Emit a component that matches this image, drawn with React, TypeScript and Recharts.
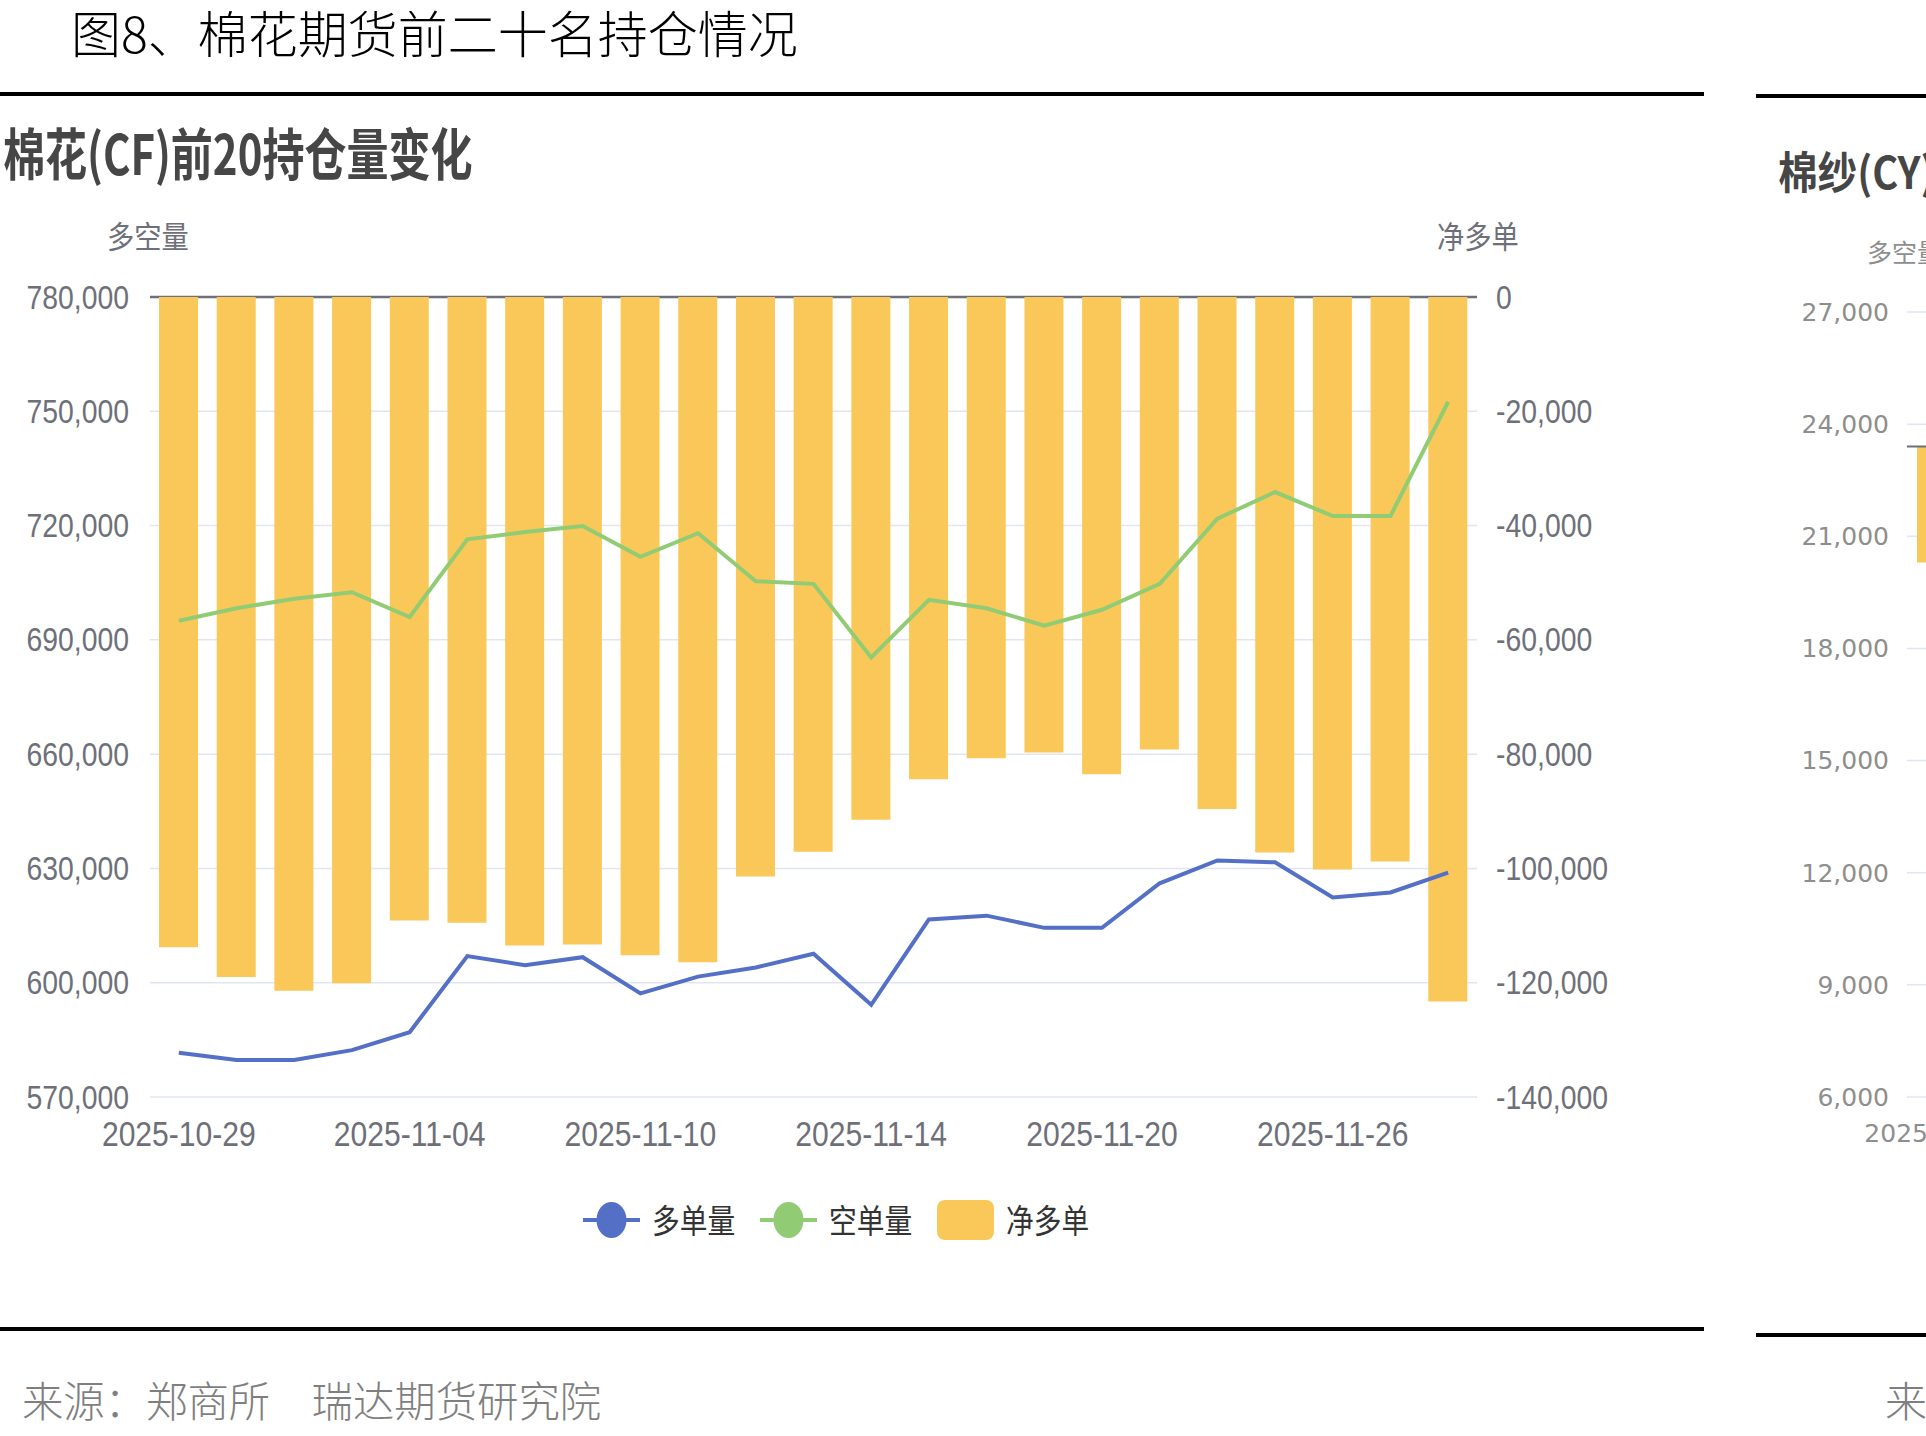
import React from 'react';
import { ComposedChart, Bar, Line, XAxis, YAxis, CartesianGrid, Legend, ReferenceLine } from 'recharts';

// trading days shown on the category axis
const dates = [
  '2025-10-29', '2025-10-30', '2025-10-31', '2025-11-03', '2025-11-04', '2025-11-05',
  '2025-11-06', '2025-11-07', '2025-11-10', '2025-11-11', '2025-11-12', '2025-11-13',
  '2025-11-14', '2025-11-17', '2025-11-18', '2025-11-19', '2025-11-20', '2025-11-21',
  '2025-11-24', '2025-11-25', '2025-11-26', '2025-11-27', '2025-11-28',
];

// 棉花(CF) top-20 positions
const longVol = [
  581600, 579700, 579700, 582300, 587000, 607000, 604600, 606700, 597200, 601600, 604000, 607600,
  594200, 616600, 617600, 614400, 614400, 626100, 632100, 631600, 622400, 623700, 628900,
];
const shortVol = [
  695000, 698300, 700800, 702500, 696000, 716400, 718300, 719900, 711800, 718000, 705400, 704700,
  685400, 700500, 698300, 693700, 697900, 704700, 721800, 728800, 722500, 722500, 752500,
];
const netLong = [
  -113800, -119000, -121400, -120100, -109100, -109500, -113500, -113300, -115200, -116400, -101400, -97100,
  -91500, -84400, -80700, -79700, -83500, -79200, -89600, -97200, -100200, -98800, -123300,
];

const leftTicks = [570000, 600000, 630000, 660000, 690000, 720000, 750000, 780000];
const rightTicks = [-140000, -120000, -100000, -80000, -60000, -40000, -20000, 0];

// 棉纱(CY) panel, only the first bar is inside the frame
const yarnRange: ([number, number] | null)[] = [
  [20300, 23400], null, null, null, null, null, null, null, null, null, null, null,
  null, null, null, null, null, null, null, null, null, null, null,
];
const yarnTicks = [6000, 9000, 12000, 15000, 18000, 21000, 24000, 27000];

const cfData = dates.map((d, i) => ({ date: d, long: longVol[i], short: shortVol[i], net: netLong[i] }));
const cyData = dates.map((d, i) => ({ date: d, range: yarnRange[i] }));

const BLUE = '#5470c6';
const GREEN = '#91cc75';
const YELLOW = '#fac858';
const AXIS_GREY = '#6E7079';
const GRID = '#E0E6F1';
const CJK = '"Noto Sans CJK SC", "Noto Sans", sans-serif';
const SANS = '"Liberation Sans", Arial, sans-serif';

const PLOT_TOP = 297;
const fmt = (v: number) => v.toLocaleString('en-US');

function Txt({ x, y, size, sx = 1, color, weight = 400, family = CJK, children }: any) {
  return (
    <div
      style={{
        position: 'absolute', left: x, top: y, fontSize: size, lineHeight: `${size}px`,
        color, fontWeight: weight, fontFamily: family, whiteSpace: 'nowrap',
        transform: `scaleX(${sx})`, transformOrigin: 'left top',
      }}
    >
      {children}
    </div>
  );
}

// axis label squeezed horizontally like the source image
function NarrowTick({ x, y, payload, textAnchor, size, dy, format }: any) {
  const label = format ? format(payload.value) : payload.value;
  return (
    <g transform={`translate(${x},${y})`}>
      <text transform="scale(0.86,1)" textAnchor={textAnchor} dy={dy} fontSize={size} fill={AXIS_GREY} fontFamily={SANS}>
        {label}
      </text>
    </g>
  );
}

const gridLine = (props: any) => {
  const { x1, x2, y1, y2, index } = props;
  const top = Math.abs(y1 - PLOT_TOP) < 1;
  return (
    <line key={`g-${index}`} x1={x1} x2={x2} y1={y1} y2={y2}
      stroke={top ? AXIS_GREY : GRID} strokeWidth={top ? 2.5 : 1.5} />
  );
};

const LEGEND_ORDER = ['多单量', '空单量', '净多单'];

function LegendContent({ payload }: any) {
  const items = [...(payload || [])].sort(
    (a: any, b: any) => LEGEND_ORDER.indexOf(a.value) - LEGEND_ORDER.indexOf(b.value),
  );
  return (
    <div style={{ display: 'flex', alignItems: 'center' }}>
      {items.map((it: any) => (
        <div key={it.value} style={{ display: 'flex', alignItems: 'center', marginRight: 26 }}>
          <svg width={57} height={40}>
            {it.type === 'rect' ? (
              <rect x={0} y={0} width={57} height={40} rx={8} fill={it.color} />
            ) : (
              <>
                <line x1={0} x2={57} y1={20} y2={20} stroke={it.color} strokeWidth={4} />
                <ellipse cx={28.5} cy={20} rx={15} ry={18} fill={it.color} />
              </>
            )}
          </svg>
          <div style={{ width: 82, marginLeft: 12, height: 40, position: 'relative' }}>
            <span
              style={{
                position: 'absolute', left: 0, top: 3, fontSize: 33, lineHeight: '33px', color: '#333',
                fontFamily: CJK, whiteSpace: 'nowrap', transform: 'scaleX(0.84)', transformOrigin: 'left top',
              }}
            >
              {it.value}
            </span>
          </div>
        </div>
      ))}
    </div>
  );
}

export default function App() {
  return (
    <div style={{ position: 'fixed', left: 0, top: 0, width: 1926, height: 1436, overflow: 'hidden', background: '#fff' }}>
      <Txt x={71} y={6} size={50} color="#000" weight={300}>图8、棉花期货前二十名持仓情况</Txt>
      <div style={{ position: 'absolute', left: 0, top: 92, width: 1704, height: 4, background: '#000' }} />
      <div style={{ position: 'absolute', left: 1756, top: 94, width: 170, height: 4, background: '#000' }} />

      <Txt x={3} y={123} size={56} sx={0.75} color="#464646" weight={700}>棉花(CF)前20持仓量变化</Txt>
      <Txt x={107} y={219} size={31} sx={0.88} color={AXIS_GREY}>多空量</Txt>
      <Txt x={1437} y={219} size={31} sx={0.88} color={AXIS_GREY}>净多单</Txt>

      <div style={{ position: 'absolute', left: 0, top: 0 }}>
        <ComposedChart width={1704} height={1300} data={cfData} margin={{ top: PLOT_TOP, right: 27, bottom: 143, left: 0 }}>
          <CartesianGrid yAxisId="left" vertical={false} horizontal={gridLine} />
          <XAxis
            dataKey="date" interval={3} axisLine={false} tickLine={false} tickSize={0} tickMargin={24} height={60}
            tick={(p: any) => <NarrowTick {...p} size={35} dy="0.71em" />}
          />
          <YAxis
            yAxisId="left" domain={[570000, 780000]} ticks={leftTicks} width={150}
            axisLine={false} tickLine={false} tickSize={0} tickMargin={21}
            tick={(p: any) => <NarrowTick {...p} size={33} dy="0.35em" format={fmt} />}
          />
          <YAxis
            yAxisId="right" orientation="right" domain={[-140000, 0]} ticks={rightTicks} width={200}
            axisLine={false} tickLine={false} tickSize={0} tickMargin={19}
            tick={(p: any) => <NarrowTick {...p} size={33} dy="0.35em" format={fmt} />}
          />
          <Bar yAxisId="right" dataKey="net" name="净多单" fill={YELLOW} barSize={39} isAnimationActive={false} />
          <Line yAxisId="left" dataKey="long" name="多单量" stroke={BLUE} strokeWidth={4} dot={false} type="linear" isAnimationActive={false} />
          <Line yAxisId="left" dataKey="short" name="空单量" stroke={GREEN} strokeWidth={4} dot={false} type="linear" isAnimationActive={false} />
          <Legend
            layout="horizontal" verticalAlign="middle" align="center" content={<LegendContent />}
            wrapperStyle={{ top: 1200, left: 583, width: 'auto', height: 'auto' }}
          />
        </ComposedChart>
      </div>

      <div style={{ position: 'absolute', left: 0, top: 1327, width: 1704, height: 4, background: '#000' }} />
      <div style={{ position: 'absolute', left: 1756, top: 1333, width: 170, height: 4, background: '#000' }} />
      <Txt x={22} y={1378} size={42} sx={0.985} color="#7F7F7F" weight={300}>来源：郑商所　瑞达期货研究院</Txt>

      <div style={{ position: 'absolute', left: 1756, top: 0, width: 170, height: 1436, overflow: 'hidden' }}>
        <Txt x={22} y={148} size={44} sx={0.9} color="#464646" weight={700}>棉纱(CY)前20持仓量变化</Txt>
        <Txt x={111} y={239} size={25} color="#8E8E8E">多空量</Txt>
        <div style={{ position: 'absolute', left: 0, top: 0 }}>
          <ComposedChart width={1531} height={1200} data={cyData} margin={{ top: 312, right: 0, bottom: 43, left: 0 }}>
            <CartesianGrid vertical={false} stroke={GRID} strokeWidth={1.5} />
            <XAxis
              dataKey="date" interval={3} axisLine={false} tickLine={false} tickSize={0} tickMargin={27} height={60}
              tick={{ fill: '#8E8E8E', fontSize: 25, fontFamily: '"DejaVu Sans", sans-serif' }}
            />
            <YAxis
              domain={[6000, 27000]} ticks={yarnTicks} tickFormatter={fmt} width={151}
              axisLine={false} tickLine={false} tickSize={0} tickMargin={18}
              tick={{ fill: '#8E8E8E', fontSize: 25, fontFamily: '"DejaVu Sans", sans-serif' }}
            />
            <ReferenceLine y={23400} stroke={AXIS_GREY} strokeWidth={2} />
            <Bar dataKey="range" fill={YELLOW} barSize={40} isAnimationActive={false} />
          </ComposedChart>
        </div>
        <Txt x={129} y={1378} size={42} color="#7F7F7F" weight={300}>来源：郑商所　瑞达期货研究院</Txt>
      </div>
    </div>
  );
}
